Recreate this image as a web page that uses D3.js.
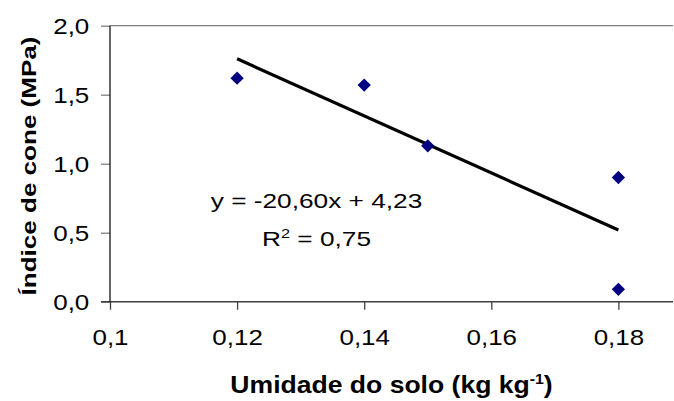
<!DOCTYPE html>
<html>
<head>
<meta charset="utf-8">
<script src="https://cdn.jsdelivr.net/npm/d3@7"></script>
<style>
  body { margin: 0; background: #fff; }
  text { font-family: "Liberation Sans", Arial, sans-serif; fill: #000; }
</style>
</head>
<body>
<div id="chart"></div>
<script>
// soil moisture (kg kg-1) vs cone index (MPa)
const moisture = [0.12, 0.14, 0.15, 0.18, 0.18];
const coneIndex = [1.62, 1.57, 1.13, 0.90, 0.09];

// fitted line, read at its two ends
const trendX = [0.12, 0.18];
const trendY = [1.76, 0.52];

const xTicks = [0.1, 0.12, 0.14, 0.16, 0.18];
const xTickLabels = ["0,1", "0,12", "0,14", "0,16", "0,18"];
const yTicks = [0, 0.5, 1, 1.5, 2];
const yTickLabels = ["0,0", "0,5", "1,0", "1,5", "2,0"];

const equationText = "y = -20,60x + 4,23";
const r2Text = " = 0,75";

// 1. sizes
const dimensions = {
  width: 674,
  height: 401,
  margin: { top: 25.7, right: 1, bottom: 99.3, left: 110 },
};
dimensions.plotRight = dimensions.width - dimensions.margin.right;
dimensions.plotBottom = dimensions.height - dimensions.margin.bottom;

// the old excel text is wider than arial, so stretch it sideways
function place(sel, x, y, sx) {
  return sel.attr("x", 0).attr("y", 0)
    .attr("transform", `translate(${x},${y}) scale(${sx},1)`);
}

// 2. canvas
const wrapper = d3.select("#chart")
  .append("svg")
  .attr("width", dimensions.width)
  .attr("height", dimensions.height)
  .style("display", "block");

wrapper.append("rect")
  .attr("width", dimensions.width)
  .attr("height", dimensions.height)
  .attr("fill", "#fff");

// 3. scales (axis runs to 0.2, the plot is cut at the right edge)
const xScale = d3.scaleLinear()
  .domain([0.1, 0.2])
  .range([dimensions.margin.left, dimensions.margin.left + 635.5]);

const yScale = d3.scaleLinear()
  .domain([0, 2])
  .range([dimensions.plotBottom, dimensions.margin.top]);

// 4. frame
wrapper.append("line")
  .attr("x1", dimensions.margin.left).attr("x2", dimensions.plotRight)
  .attr("y1", dimensions.margin.top).attr("y2", dimensions.margin.top)
  .attr("stroke", "#808080").attr("stroke-width", 1.3);

// y axis
const yAxis = wrapper.append("g")
  .attr("transform", `translate(${dimensions.margin.left},0)`)
  .attr("font-size", null).attr("font-family", null)
  .call(d3.axisLeft(yScale)
    .tickValues(yTicks)
    .tickFormat((d, i) => yTickLabels[i])
    .tickSize(9)
    .tickPadding(0));
yAxis.select(".domain").remove();
yAxis.selectAll(".tick line").attr("stroke", "#808080").attr("stroke-width", 1.3);
yAxis.selectAll(".tick text")
  .attr("font-size", 22)
  .attr("dy", "0.35em")
  .attr("text-anchor", "end")
  .each(function () { place(d3.select(this), -20.7, 0, 1.18); });

// x axis
const xAxis = wrapper.append("g")
  .attr("transform", `translate(0,${dimensions.plotBottom})`)
  .attr("font-size", null).attr("font-family", null)
  .call(d3.axisBottom(xScale)
    .tickValues(xTicks)
    .tickFormat((d, i) => xTickLabels[i])
    .tickSize(8)
    .tickPadding(0));
xAxis.select(".domain").remove();
xAxis.selectAll(".tick line").attr("stroke", "#404040").attr("stroke-width", 1.3);
xAxis.selectAll(".tick text")
  .attr("font-size", 22)
  .attr("dy", 0)
  .attr("text-anchor", "middle")
  .each(function () { place(d3.select(this), 0, 43.3, 1.18); });

wrapper.append("line")
  .attr("x1", dimensions.margin.left - 9).attr("x2", dimensions.plotRight)
  .attr("y1", dimensions.plotBottom).attr("y2", dimensions.plotBottom)
  .attr("stroke", "#404040").attr("stroke-width", 1.6);

wrapper.append("line")
  .attr("x1", dimensions.margin.left).attr("x2", dimensions.margin.left)
  .attr("y1", dimensions.margin.top).attr("y2", dimensions.plotBottom)
  .attr("stroke", "#000").attr("stroke-width", 1.2);

// 5. trend line
const lineGenerator = d3.line()
  .x((d) => xScale(d[0]))
  .y((d) => yScale(d[1]));

wrapper.append("path")
  .attr("d", lineGenerator(d3.zip(trendX, trendY)))
  .attr("fill", "none")
  .attr("stroke", "#000")
  .attr("stroke-width", 3.2);

// 6. points
const diamond = d3.symbol().type(d3.symbolSquare).size(88);
wrapper.append("g")
  .selectAll("path")
  .data(d3.zip(moisture, coneIndex))
  .join("path")
  .attr("d", diamond)
  .attr("transform", (d) => `translate(${xScale(d[0])},${yScale(d[1])}) rotate(45)`)
  .attr("fill", "#000080");

// 7. equation
const eq = wrapper.append("text")
  .attr("font-size", 21)
  .attr("text-anchor", "middle")
  .text(equationText);
place(eq, 316.5, 208.3, 1.25);

const r2 = wrapper.append("text")
  .attr("font-size", 21)
  .attr("text-anchor", "middle");
r2.append("tspan").text("R");
r2.append("tspan").attr("font-size", 13).attr("dy", -8).text("2");
r2.append("tspan").attr("dy", 8).text(r2Text);
place(r2, 316.5, 246, 1.25);

// 8. axis titles
const xTitle = wrapper.append("text")
  .attr("font-size", 23.5)
  .attr("font-weight", "bold")
  .attr("text-anchor", "middle");
xTitle.append("tspan").text("Umidade do solo (kg kg");
xTitle.append("tspan").attr("font-size", 14).attr("dy", -9).text("-1");
xTitle.append("tspan").attr("dy", 9).text(")");
place(xTitle, (dimensions.margin.left + dimensions.plotRight) / 2, 393, 1.13);

wrapper.append("g")
  .attr("transform", `translate(36,166) rotate(-90)`)
  .append("text")
  .attr("font-size", 21)
  .attr("font-weight", "bold")
  .attr("text-anchor", "middle")
  .attr("transform", "scale(1.24,1)")
  .text("Índice de cone (MPa)");
</script>
</body>
</html>
